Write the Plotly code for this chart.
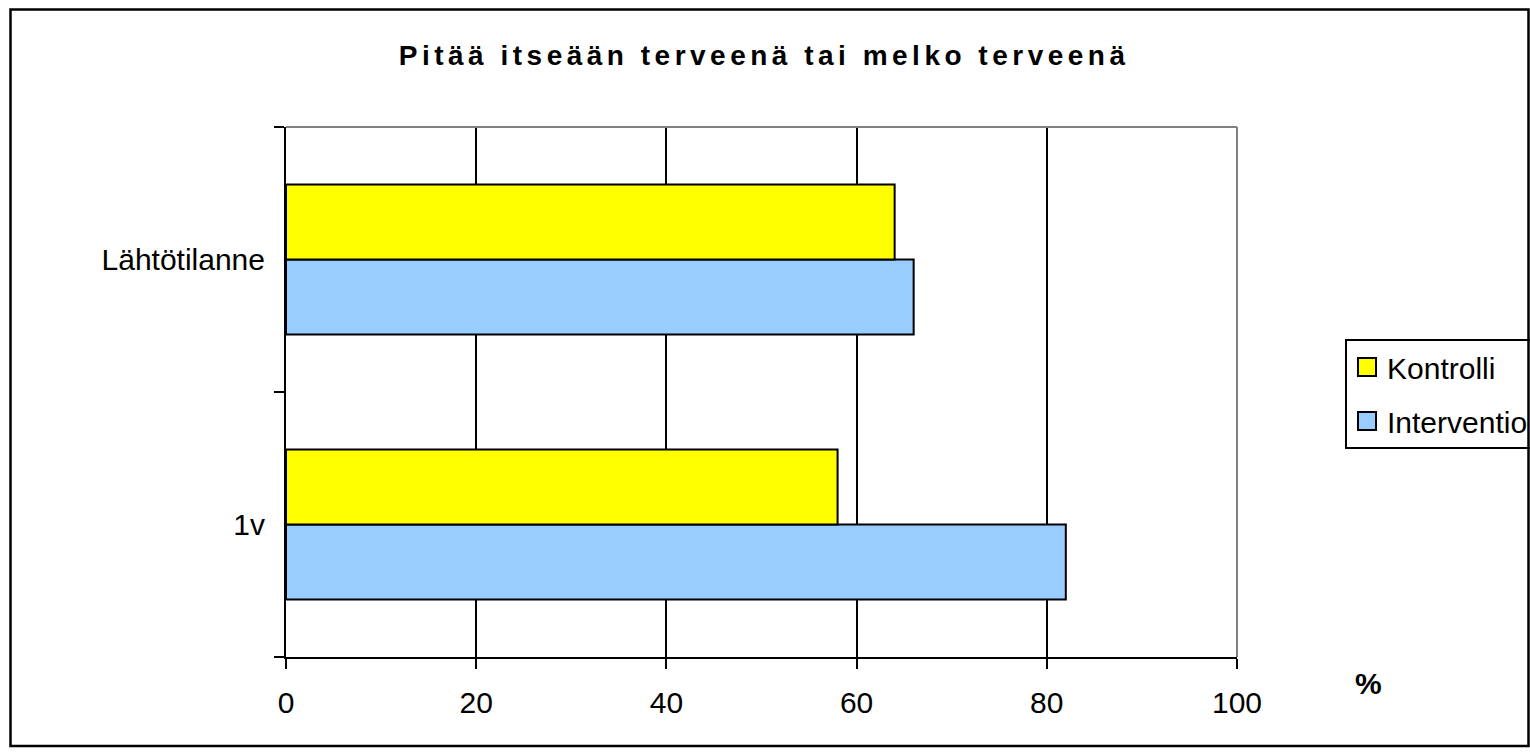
import plotly.graph_objects as go

# Data
categories = ["Lähtötilanne", "1v"]
kontrolli = [64, 58]
interventio = [66, 82]
x_ticks = [0, 20, 40, 60, 80, 100]
title_text = "Pitää itseään terveenä tai melko terveenä"

FONT = "Liberation Sans, Arial, sans-serif"

# Plot area in pixels
W, H = 1530, 755
L, R, T, B = 286, 1237, 127, 657
pw, ph = R - L, B - T

def px_x(px):
    return (px - L) / pw

def px_y(py):
    return (B - py) / ph

fig = go.Figure()
fig.add_trace(go.Bar(
    y=categories, x=interventio, name="Interventio", orientation="h",
    marker=dict(color="#99CCFF", line=dict(color="black", width=2)),
    legendgroup="b", legendrank=2,
))
fig.add_trace(go.Bar(
    y=categories, x=kontrolli, name="Kontrolli", orientation="h",
    marker=dict(color="#FFFF00", line=dict(color="black", width=2)),
    legendgroup="a", legendrank=1,
))

fig.update_layout(
    width=W, height=H,
    margin=dict(l=L, r=W - R, t=T, b=H - B, pad=0, autoexpand=False),
    paper_bgcolor="white", plot_bgcolor="white",
    barmode="group", bargap=0.434, bargroupgap=0,
    font=dict(family=FONT, size=30, color="black"),
    showlegend=True,
    legend=dict(
        x=px_x(1345), y=px_y(339), xanchor="left", yanchor="top",
        bordercolor="black", borderwidth=2, bgcolor="rgba(255,255,255,0)",
        traceorder="grouped", tracegroupgap=12,
        font=dict(family=FONT, size=30),
    ),
    xaxis=dict(
        range=[0, 100], tickvals=x_ticks, ticktext=[str(v) for v in x_ticks],
        showgrid=True, gridcolor="black", gridwidth=2,
        showline=True, linecolor="black", linewidth=2,
        ticks="outside", ticklen=10, tickwidth=2, tickcolor="black",
        zeroline=False, tickfont=dict(size=30), ticklabelstandoff=8,
        fixedrange=True, automargin=False,
    ),
    yaxis=dict(
        type="category", categoryorder="array", categoryarray=list(reversed(categories)),
        tickson="boundaries", ticks="outside", ticklen=10, tickwidth=2, tickcolor="black",
        showline=True, linecolor="black", linewidth=2, showgrid=False,
        tickfont=dict(size=30), ticklabelstandoff=13, fixedrange=True, automargin=False,
    ),
    shapes=[
        # grey plot border (top and right)
        dict(type="line", xref="paper", yref="paper", x0=0, x1=1, y0=1, y1=1,
             line=dict(color="#808080", width=2), layer="above"),
        dict(type="line", xref="paper", yref="paper", x0=1, x1=1, y0=0, y1=1,
             line=dict(color="#808080", width=2), layer="above"),
        # outer chart frame
        dict(type="rect", xref="paper", yref="paper",
             x0=px_x(10.5), x1=px_x(1528.5), y0=px_y(746), y1=px_y(9.5),
             line=dict(color="black", width=2.5), layer="above"),
    ],
    annotations=[
        dict(text="<b>" + title_text + "</b>", xref="paper", yref="paper",
             x=px_x(764), y=px_y(55), xanchor="center", yanchor="middle",
             showarrow=False, font=dict(family=FONT, size=28)),
        dict(text="<b>%</b>", xref="paper", yref="paper",
             x=px_x(1368), y=px_y(683), xanchor="center", yanchor="middle",
             showarrow=False, font=dict(family=FONT, size=30)),
    ],
)

post = """
document.body.style.margin='0';
document.body.style.overflow='hidden';
var t = document.querySelectorAll('g.annotation text');
if (t.length) { t[0].setAttribute('letter-spacing', '4.5px'); }
document.querySelectorAll('g.legendpoints path').forEach(function(p){
  p.setAttribute('d', 'M9,9H-9V-9H9Z');
});
"""

fig.write_html("out.html", config={"displayModeBar": False}, post_script=post)
